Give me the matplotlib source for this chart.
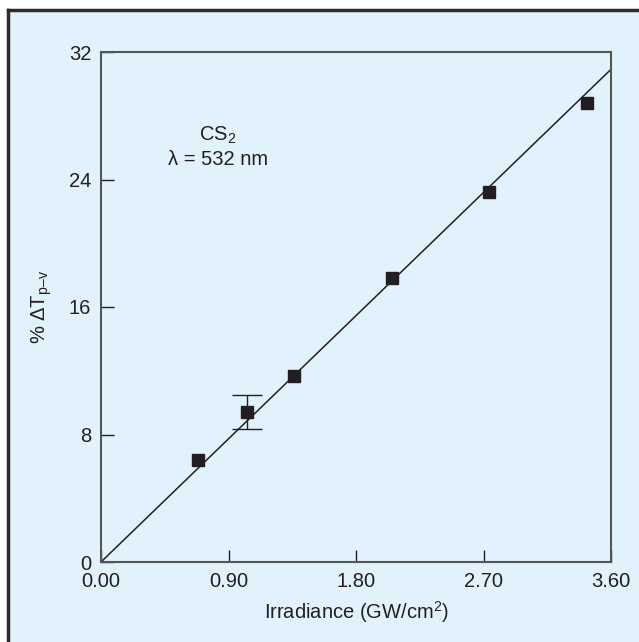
import numpy as np
import matplotlib
matplotlib.use('Agg')
import matplotlib.pyplot as plt
from matplotlib.patches import Rectangle
from matplotlib.lines import Line2D

plt.rcParams['font.family'] = ['Liberation Sans', 'DejaVu Sans']
plt.rcParams['mathtext.fontset'] = 'custom'
plt.rcParams['mathtext.rm'] = 'Liberation Sans'
plt.rcParams['mathtext.it'] = 'Liberation Sans'
plt.rcParams['mathtext.default'] = 'regular'

# data
irradiance = [0.683, 1.031, 1.362, 2.054, 2.737, 3.428]
delta_t = [6.4, 9.41, 11.67, 17.84, 23.24, 28.82]
err_idx = 1
err_val = 1.06
fit_slope = 8.587
x_ticks = [0.0, 0.9, 1.8, 2.7, 3.6]
y_ticks = [0, 8, 16, 24, 32]

bg = '#e1f2fc'
dark = '#231f20'
fs = 14.5

fig = plt.figure(figsize=(6.39, 6.42), dpi=100)
fig.patch.set_facecolor('white')
fig.patches.append(Rectangle((8/639, 0), 1, 1 - 10/642, transform=fig.transFigure,
                             facecolor=bg, edgecolor='none', zorder=-2))
fig.lines.append(Line2D([8/639, 8/639], [0, 1 - 10/642], transform=fig.transFigure,
                        color='#2b2b2b', lw=2.5, zorder=-1))
fig.lines.append(Line2D([8/639, 1], [1 - 10/642, 1 - 10/642], transform=fig.transFigure,
                        color='#2b2b2b', lw=2.5, zorder=-1))

ax = fig.add_axes([101/639, 1 - 562/642, 510/639, 510/642])
ax.set_facecolor(bg)

xf = np.array([0.0, 3.6])
ax.plot(xf, fit_slope * xf, color=dark, lw=1.1)
ax.plot(irradiance, delta_t, 's', color=dark, markersize=8.5)
ax.errorbar([irradiance[err_idx]], [delta_t[err_idx]], yerr=[err_val], fmt='none',
            ecolor=dark, elinewidth=1, capsize=11, capthick=1)

ax.set_xlim(0, 3.6)
ax.set_ylim(0, 32)
ax.set_xticks(x_ticks)
ax.set_xticklabels(['%.2f' % v for v in x_ticks])
ax.set_yticks(y_ticks)
ax.tick_params(direction='in', length=9, width=1, labelsize=fs, colors=dark)
ax.tick_params(axis='x', pad=7)
ax.tick_params(axis='y', pad=7)
for s in ax.spines.values():
    s.set_color('#555555')
    s.set_linewidth(1.5)

ax.set_xlabel('Irradiance (GW/cm$^2$)', fontsize=fs, color=dark, labelpad=6)
ax.set_ylabel('% $\\Delta$T$_{p\u2013v}$', fontsize=fs, color=dark, labelpad=11)

ax.text(0.826, 26.8, 'CS$_2$', ha='center', va='center', fontsize=fs, color=dark)
ax.text(0.826, 25.25, '\u03bb = 532 nm', ha='center', va='center', fontsize=fs, color=dark)

fig.savefig('out.png', dpi=100, facecolor='white')
